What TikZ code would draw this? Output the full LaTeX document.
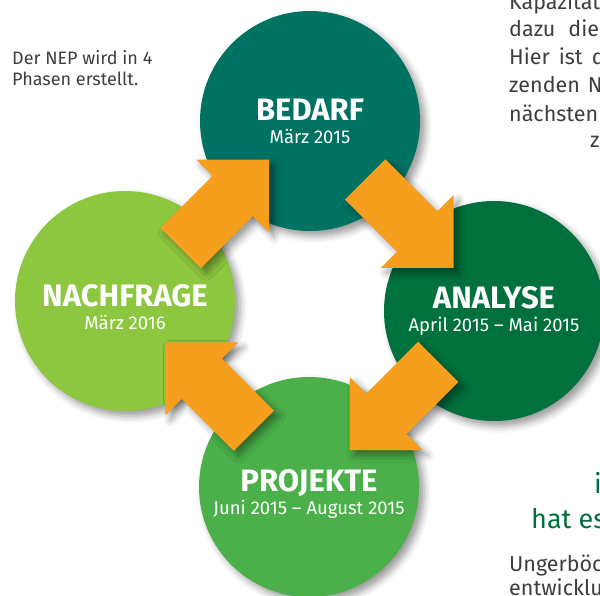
\documentclass[tikz,border=0pt]{standalone}
\usepackage{fontspec}
\setmainfont{Fira Sans}
\usetikzlibrary{calc,shadows.blur}

\definecolor{bedarfteal}{RGB}{0,114,98}
\definecolor{analysegreen}{RGB}{0,112,60}
\definecolor{nachfragegreen}{RGB}{141,198,63}
\definecolor{projektegreen}{RGB}{75,176,74}
\definecolor{floworange}{RGB}{246,158,30}
\definecolor{bodygray}{RGB}{62,62,62}

\newcommand{\phasename}[1]{{\fontsize{31}{31}\selectfont\bfseries #1}}

\tikzset{
  softshadow/.style={blur shadow={shadow xshift=5pt, shadow yshift=-5pt,
      shadow blur radius=7pt, shadow opacity=40}},
  phase/.style={circle, minimum size=220pt, inner sep=0pt, softshadow},
  phasetext/.style={text=white, align=center, inner sep=0pt,
    font=\fontsize{18.5}{23}\selectfont},
  bodytext/.style={anchor=base west, inner sep=0pt, text=bodygray,
    font=\fontsize{21.5}{28}\selectfont},
  headtext/.style={anchor=base west, inner sep=0pt, text=analysegreen,
    font=\fontsize{27}{32}\selectfont},
  flow/.pic={
    \fill[floworange, softshadow] (62.5,0) -- (11,51.5) -- (11,28.5)
      -- (-62.5,28.5) -- (-62.5,-28.5) -- (11,-28.5) -- (11,-51.5) -- cycle;
  },
}

\begin{document}
\begin{tikzpicture}[x=1pt,y=-1pt]
\useasboundingbox (0,0) rectangle (600,596);
\clip (0,0) rectangle (600,596);

% Note on the left
\node[anchor=base west, inner sep=0pt, text=bodygray, align=left,
  font=\fontsize{18}{21}\selectfont] (note) at (12,86)
  {Der NEP wird in 4\\Phasen erstellt.};

% Running text on the right
\node[bodytext] (line1) at (509,10) {Kapazität};
\node[bodytext] (line2) at (509,37) {dazu\hspace{13pt}die};
\node[bodytext] (line3) at (509,65) {Hier\hspace{9pt}ist\hspace{9pt}d};
\node[bodytext] (line4) at (509,93) {zenden\hspace{8pt}N};
\node[bodytext] (line5) at (509,122) {nächsten};
\node[bodytext] (line6) at (590,148) {z};
\node[headtext] (head1) at (594,493) {i};
\node[headtext] (head2) at (531,528) {hat es};
\node[bodytext] (line7) at (509,571) {Ungerböc};
\node[bodytext] (line8) at (509,595) {entwicklu};

% The four phases
\node[phase, fill=bedarfteal,
  label={[phasetext]center:{\phasename{BEDARF}\\März 2015}}] (bedarf) at (310,121) {};
\node[phase, fill=analysegreen,
  label={[phasetext]center:{\phasename{ANALYSE}\\April 2015 – Mai 2015}}] (analyse) at (494,311) {};
\node[phase, fill=projektegreen,
  label={[phasetext,yshift=-7pt]center:{\phasename{PROJEKTE}\\Juni 2015 – August 2015}}] (projekte) at (309,487) {};
\node[phase, fill=nachfragegreen,
  label={[phasetext,yshift=-6pt]center:{\phasename{NACHFRAGE}\\März 2016}}] (nachfrage) at (125,301) {};

% Arrows between the phases
\foreach \from/\to/\ang in {nachfrage/bedarf/45, bedarf/analyse/-45,
    analyse/projekte/-135, projekte/nachfrage/135}
  \pic[rotate=\ang] at ($(\from)!0.54!(\to)$) {flow};
\end{tikzpicture}
\end{document}
